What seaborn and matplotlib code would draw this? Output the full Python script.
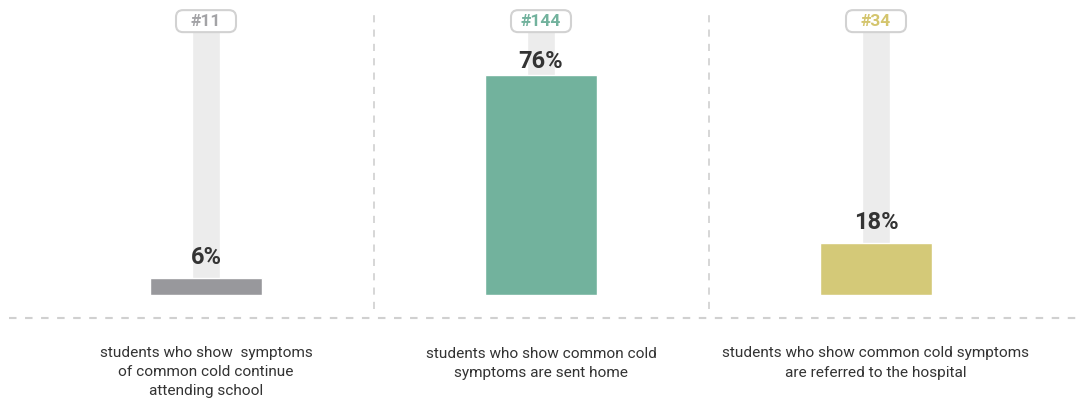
import matplotlib
matplotlib.use("Agg")
import matplotlib.pyplot as plt
import matplotlib.transforms as mtransforms
from matplotlib.patches import FancyBboxPatch
from matplotlib.lines import Line2D
import pandas as pd
import seaborn as sns

# --- data -------------------------------------------------------------
categories = ["continue attending school", "sent home", "referred to hospital"]
shares = [6, 76, 18]                 # percent of students
counts = ["#11", "#144", "#34"]      # number of students
bar_colors = ["#98989c", "#72b29d", "#d4c978"]
count_colors = ["#a3a3a6", "#72b29d", "#d4c56e"]
descriptions = [
    ["students who show  symptoms", "of common cold continue", "attending school"],
    ["students who show common cold", "symptoms are sent home"],
    ["students who show common cold symptoms", "are referred to the hospital"],
]
track_height = 92

sns.set_theme(style="white")
plt.rcParams["font.family"] = ["Roboto", "DejaVu Sans"]

W, H = 1083, 401
fig = plt.figure(figsize=(W / 100, H / 100), dpi=100)
fig.patch.set_facecolor("white")

# axes placed in pixel terms: x=0 centred at 206px, one category = 335px
step_px = 335.0
left_px, bottom_px, height_px = 206 - step_px / 2, 106, 289.5
ax = fig.add_axes([left_px / W, bottom_px / H, 3 * step_px / W, height_px / H])
px_per_unit = height_px / 100

df = pd.DataFrame({"category": categories, "share": shares})
df_track = pd.DataFrame({"category": categories, "share": [track_height] * 3})

# thin grey track behind every bar
sns.barplot(data=df_track, x="category", y="share", order=categories,
            color="#ececec", width=0.083, ax=ax, saturation=1)
# value bars
sns.barplot(data=df, x="category", y="share", hue="category", order=categories,
            hue_order=categories, palette=bar_colors, width=0.334, ax=ax,
            legend=False, saturation=1)

ax.set_xlim(-0.5, 2.5)
ax.set_ylim(0, 100)
ax.axis("off")

text_dark = "#333333"

# value labels above each bar, kept clear of the count badges
label_gap = 14 / px_per_unit
label_ceiling = 78.4
for i, v in enumerate(shares):
    ax.text(i, min(v + label_gap, label_ceiling), f"{v}%",
            ha="center", va="baseline", fontsize=17, fontweight="bold",
            color=text_dark, zorder=4)

# count badges at the top of each track
for i, (c, col) in enumerate(zip(counts, count_colors)):
    tr = fig.dpi_scale_trans + mtransforms.ScaledTranslation(i, 94.6, ax.transData)
    w, h, pad = 0.60, 0.22, 0.05
    badge = FancyBboxPatch((-w / 2 + pad, -h / 2 + pad), w - 2 * pad, h - 2 * pad,
                           boxstyle=f"round,pad={pad},rounding_size=0.07",
                           transform=tr, facecolor="white", edgecolor="#d2d2d2",
                           linewidth=1.5, clip_on=False, zorder=5)
    ax.add_patch(badge)
    ax.text(0, -0.005, c, transform=tr, ha="center", va="center",
            fontsize=12.5, fontweight="bold", color=col, zorder=6)

# descriptions below the baseline
def px_to_fig(y):
    return 1 - y / H

for i, lines in enumerate(descriptions):
    xfig = (left_px + (i + 0.5) * step_px) / W
    for j, line in enumerate(lines):
        fig.text(xfig, px_to_fig(357.5 + 19 * j), line, ha="center", va="baseline",
                 fontsize=11.1, color=text_dark)

# dashed separators
dash_col = "#d0d0d0"
fig.add_artist(Line2D([9 / W, 1], [px_to_fig(318)] * 2, color=dash_col,
                      linewidth=1.5, dashes=(3.6, 4.1), transform=fig.transFigure))
for xd in (0.5, 1.5):
    xfig = (left_px + (xd + 0.5) * step_px) / W
    fig.add_artist(Line2D([xfig, xfig], [px_to_fig(309), px_to_fig(10)],
                          color=dash_col, linewidth=1.2, dashes=(4.3, 4.3),
                          transform=fig.transFigure))

fig.savefig("out.png", dpi=100, facecolor="white")
